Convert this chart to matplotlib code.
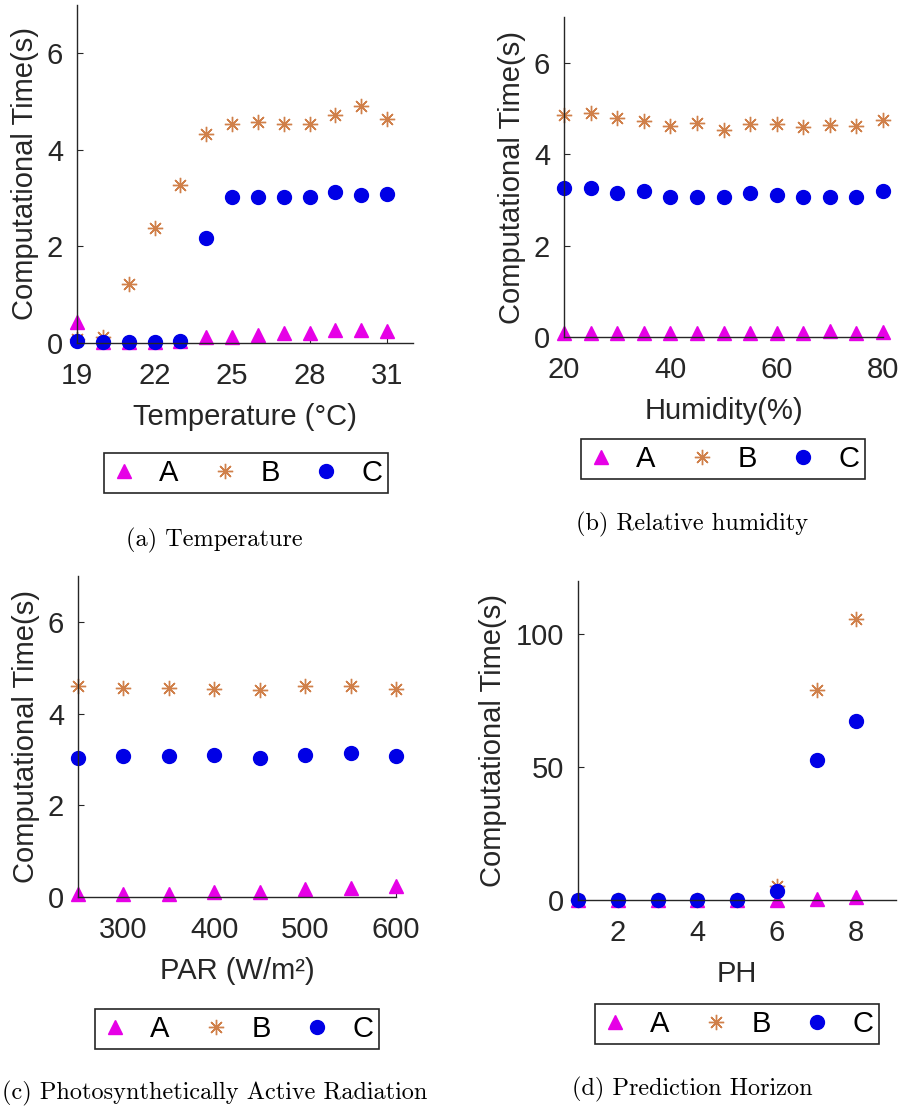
import numpy as np
import matplotlib.pyplot as plt

plt.rcParams['font.family'] = ['Liberation Sans', 'DejaVu Sans']

# (a) Temperature
temp = [19, 20, 21, 22, 23, 24, 25, 26, 27, 28, 29, 30, 31]
temp_A = [0.43, 0.02, 0.02, 0.02, 0.05, 0.12, 0.12, 0.17, 0.2, 0.2, 0.26, 0.26, 0.25]
temp_B = [0.08, 0.12, 1.23, 2.38, 3.26, 4.33, 4.54, 4.57, 4.53, 4.53, 4.72, 4.9, 4.63]
temp_C = [0.05, 0.02, 0.02, 0.02, 0.05, 2.17, 3.03, 3.03, 3.03, 3.03, 3.12, 3.07, 3.09]

# (b) Relative humidity
hum = [20, 25, 30, 35, 40, 45, 50, 55, 60, 65, 70, 75, 80]
hum_A = [0.08, 0.08, 0.08, 0.09, 0.09, 0.09, 0.09, 0.09, 0.09, 0.09, 0.13, 0.09, 0.1]
hum_B = [4.85, 4.89, 4.78, 4.73, 4.61, 4.69, 4.53, 4.65, 4.67, 4.6, 4.64, 4.61, 4.74]
hum_C = [3.25, 3.25, 3.16, 3.19, 3.07, 3.07, 3.07, 3.14, 3.1, 3.07, 3.07, 3.07, 3.19]

# (c) PAR
par = [250, 300, 350, 400, 450, 500, 550, 600]
par_A = [0.07, 0.07, 0.07, 0.1, 0.1, 0.18, 0.2, 0.25]
par_B = [4.6, 4.56, 4.56, 4.53, 4.52, 4.6, 4.6, 4.53]
par_C = [3.04, 3.07, 3.07, 3.1, 3.04, 3.1, 3.14, 3.07]

# (d) Prediction horizon
ph = [1, 2, 3, 4, 5, 6, 7, 8]
ph_A = [0.05, 0.05, 0.05, 0.05, 0.05, 0.1, 0.5, 1.0]
ph_B = [0.1, 0.1, 0.1, 0.1, 0.1, 5.3, 79.0, 105.8]
ph_C = [0.05, 0.05, 0.05, 0.05, 0.05, 3.4, 52.7, 67.4]

names = ['A', 'B', 'C']
captions = ['(a) Temperature', '(b) Relative humidity',
            '(c) Photosynthetically Active Radiation', '(d) Prediction Horizon']

W, H = 899, 1111
dark = '#262626'
col_A = '#E600E6'
col_B = '#D0804A'
col_C = '#0000E6'
fs = 21


def rect(l, t, r, b):
    return [l / W, 1 - b / H, (r - l) / W, (b - t) / H]


def draw(ax, x, a, b, c):
    ax.plot(x, a, ls='none', marker='^', ms=10, color=col_A, clip_on=False)
    ax.plot(x, b, ls='none', marker=(8, 2, 0), ms=11, mew=1.0,
            color=col_B, clip_on=False)
    ax.plot(x, c, ls='none', marker='o', ms=10, color=col_C, clip_on=False)


def setup(ax, xlim, xticks, ylim, yticks, xlabel):
    ax.set_xlim(xlim)
    ax.set_ylim(ylim)
    ax.set_xticks(xticks)
    ax.set_yticks(yticks)
    ax.spines['top'].set_visible(False)
    ax.spines['right'].set_visible(False)
    for s in ['left', 'bottom']:
        ax.spines[s].set_color(dark)
        ax.spines[s].set_linewidth(1.0)
    ax.tick_params(direction='in', length=4, labelsize=fs, colors=dark)
    ax.tick_params(axis='x', pad=14)
    ax.tick_params(axis='y', pad=10)
    ax.set_xlabel(xlabel, fontsize=fs, color=dark, labelpad=9)
    ax.set_ylabel('Computational Time(s)', fontsize=fs, color=dark, labelpad=6)


fig = plt.figure(figsize=(W / 100, H / 100), dpi=100)

ax1 = fig.add_axes(rect(77, 4.7, 413, 343))
draw(ax1, temp, temp_A, temp_B, temp_C)
setup(ax1, [19, 32], [19, 22, 25, 28, 31], [0, 7], [0, 2, 4, 6], 'Temperature (°C)')

ax2 = fig.add_axes(rect(564, 17, 883, 337))
draw(ax2, hum, hum_A, hum_B, hum_C)
setup(ax2, [20, 80], [20, 40, 60, 80], [0, 7], [0, 2, 4, 6], 'Humidity(%)')

ax3 = fig.add_axes(rect(78, 576, 396, 897))
draw(ax3, par, par_A, par_B, par_C)
setup(ax3, [250, 600], [300, 400, 500, 600], [0, 7], [0, 2, 4, 6], 'PAR (W/m²)')

ax4 = fig.add_axes(rect(578, 581, 896, 900))
draw(ax4, ph, ph_A, ph_B, ph_C)
setup(ax4, [1, 9], [2, 4, 6, 8], [0, 120], [0, 50, 100], 'PH')

# legends below each panel
leg_centres = [(246, 473), (723, 459), (237, 1029), (737, 1024)]
cap_centres = [(214, 540), (692, 524), (215, 1093), (692, 1089)]
for ax, (cx, cy), (tx, ty), cap in zip([ax1, ax2, ax3, ax4], leg_centres,
                                       cap_centres, captions):
    handles = ax.get_lines()[:3]
    leg = fig.legend(handles, names, loc='center',
                     bbox_to_anchor=(cx / W, 1 - cy / H), ncol=3,
                     fancybox=False, framealpha=1, edgecolor=dark,
                     fontsize=fs, handlelength=1.0, handletextpad=0.7,
                     columnspacing=1.1, borderpad=0.2)
    leg.get_frame().set_linewidth(1.2)
    fig.text(tx / W, 1 - ty / H, cap, family='cmr10', fontsize=17.5,
             ha='center', va='center')

fig.savefig('out.png', dpi=100)
